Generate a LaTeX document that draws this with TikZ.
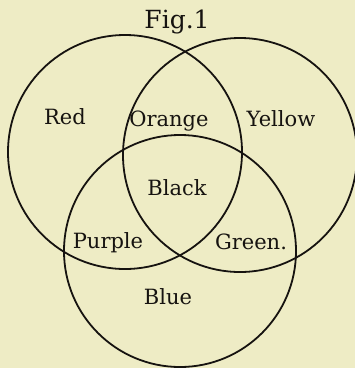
\documentclass[tikz,border=0pt]{standalone}
\usepackage{fontspec}
\setmainfont{DejaVu Serif}
\definecolor{paper}{RGB}{238,236,197}
\definecolor{ink}{RGB}{22,19,16}
\tikzset{
  ring/.style={draw=ink, line width=1.8pt},
  colourname/.style={anchor=base, text=ink, inner sep=0pt}
}

\begin{document}
\begin{tikzpicture}[x=1pt, y=-1pt, font=\fontsize{21}{24}\selectfont]
% ---------- paper ----------
\fill[paper] (0,0) rectangle (355,368);
\useasboundingbox (0,0) rectangle (355,368);
\clip (0,0) rectangle (355,368);
% ---------- the three circles ----------
\draw[ring] (125,152) circle (117pt);
\draw[ring] (240,155) circle (117pt);
\draw[ring] (180,251) circle (116pt);
% ---------- labels ----------
\node[colourname, font=\fontsize{25}{28}\selectfont] (fig) at (177,28) {Fig.1};
\node[colourname] (red) at (65,124) {Red};
\node[colourname] (orange) at (169,126) {Orange};
\node[colourname] (yellow) at (281,126) {Yellow};
\node[colourname] (black) at (177,195) {Black};
\node[colourname] (purple) at (108,248) {Purple};
\node[colourname] (green) at (251,249) {Green.};
\node[colourname] (blue) at (168,304) {Blue};
\end{tikzpicture}
\end{document}
